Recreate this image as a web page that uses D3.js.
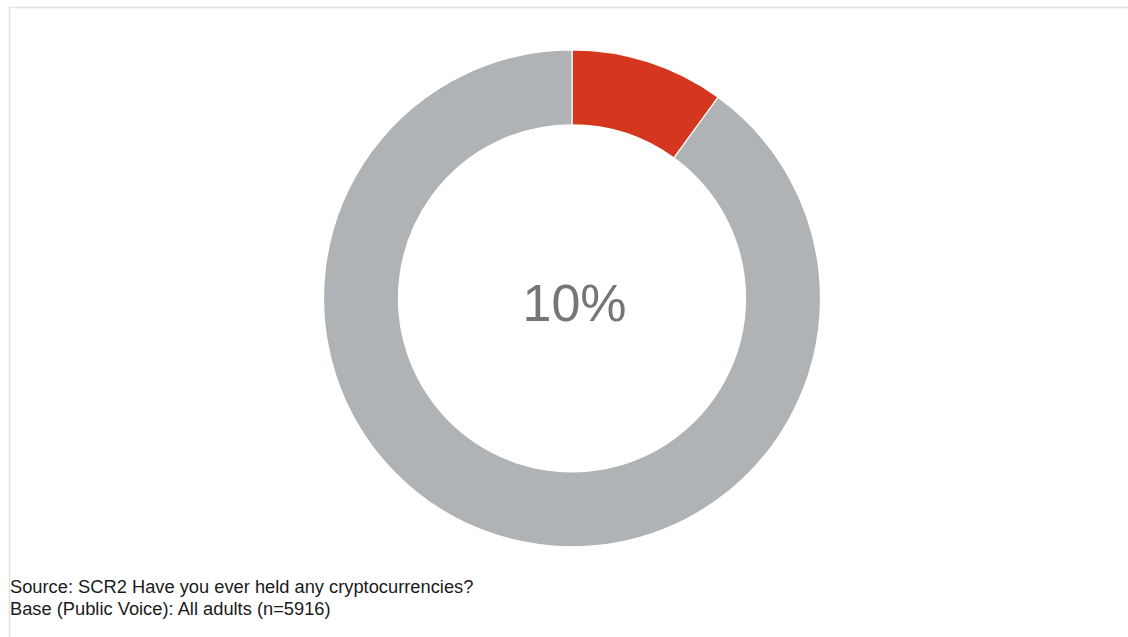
<!DOCTYPE html>
<html>
<head>
<meta charset="utf-8">
<script src="https://cdn.jsdelivr.net/npm/d3@7"></script>
<style>
  html, body { margin: 0; padding: 0; background: #fff; }
  svg { display: block; }
</style>
</head>
<body>
<svg id="chart" width="1128" height="637"></svg>
<script>
// Share of adults who have ever held cryptocurrency
const categories = ["Yes", "No"];
const values = [10, 90];
const colors = ["#d5361e", "#b0b3b5"];
const centerLabel = "10%";
const footnotes = [
  "Source: SCR2 Have you ever held any cryptocurrencies?",
  "Base (Public Voice): All adults (n=5916)"
];

const svg = d3.select("#chart");

// light frame around the chart area
svg.append("rect")
  .attr("x", 9.5).attr("y", 7.5)
  .attr("width", 1200).attr("height", 700)
  .attr("fill", "none")
  .attr("stroke", "#e3e3e3")
  .attr("stroke-width", 1.5);

const cx = 572, cy = 298.3;
const outerR = 248.5, innerR = 173.5;

const color = d3.scaleOrdinal().domain(categories).range(colors);

const pie = d3.pie().sort(null).value(d => d.value);
const arc = d3.arc().innerRadius(innerR).outerRadius(outerR);

const data = categories.map((c, i) => ({ category: c, value: values[i] }));

const g = svg.append("g").attr("transform", `translate(${cx},${cy})`);

g.selectAll("path")
  .data(pie(data))
  .join("path")
  .attr("d", arc)
  .attr("fill", d => color(d.data.category))
  .attr("stroke", "#ffffff")
  .attr("stroke-width", 1.2);

g.append("text")
  .attr("x", 2.5)
  .attr("y", 22.7)
  .attr("text-anchor", "middle")
  .attr("font-family", "Liberation Sans, Arial, sans-serif")
  .attr("font-size", 52)
  .attr("fill", "#767676")
  .text(centerLabel);

svg.selectAll("text.note")
  .data(footnotes)
  .join("text")
  .attr("class", "note")
  .attr("x", 10)
  .attr("y", (d, i) => 593 + i * 22)
  .attr("font-family", "Liberation Sans, Arial, sans-serif")
  .attr("font-size", 18.3)
  .attr("fill", "#1a1a1a")
  .text(d => d);
</script>
</body>
</html>
